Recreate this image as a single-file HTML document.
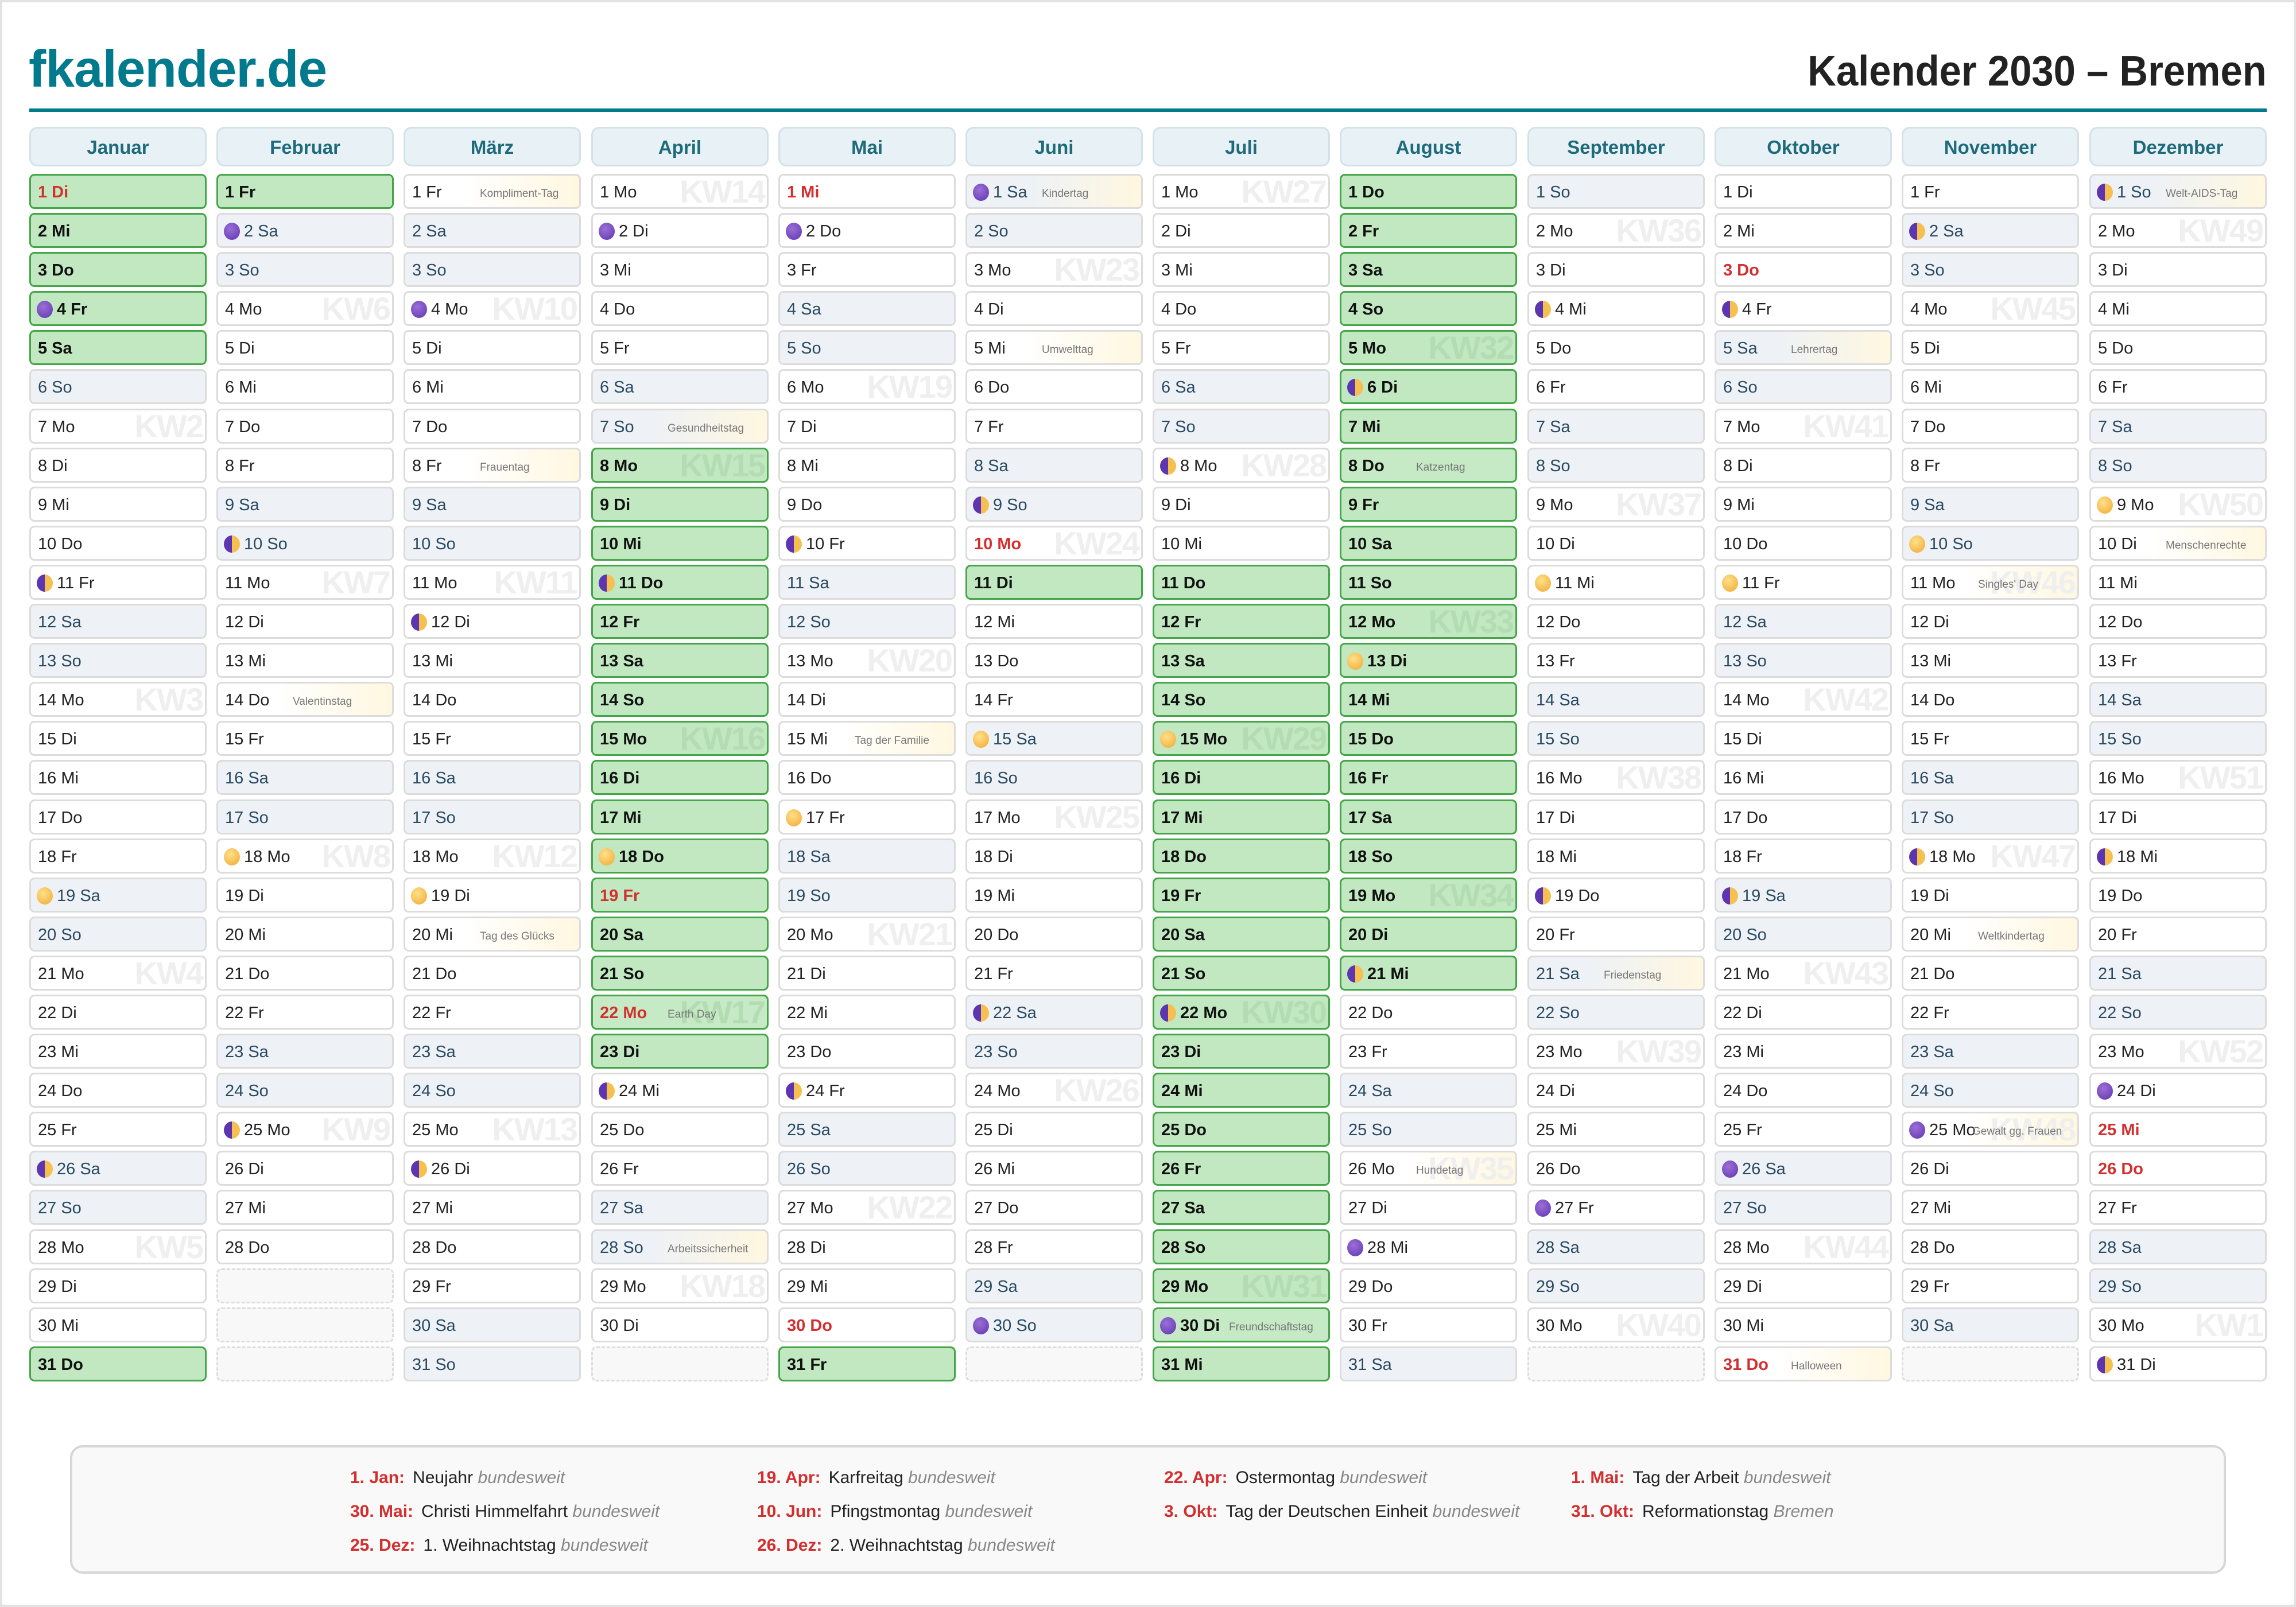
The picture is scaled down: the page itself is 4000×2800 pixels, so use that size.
<!DOCTYPE html>
<html><head><meta charset="utf-8"><style>
*{box-sizing:border-box}
body{margin:0;width:4000px;height:2800px;background:#fff;font-family:"Liberation Sans",sans-serif;position:relative;overflow:hidden}
#frame{position:absolute;left:0;top:0;width:4000px;height:2800px;border:4px solid #E2E2E2}
#logo{position:absolute;left:50px;top:66px;font-size:91px;font-weight:bold;color:#007A8C;letter-spacing:-1px;line-height:110px}
#title{position:absolute;right:51px;top:74px;font-size:74px;font-weight:bold;color:#222;line-height:100px;transform:scaleX(0.93);transform-origin:right center;white-space:nowrap}
#rule{position:absolute;left:51px;top:189px;width:3898px;height:6px;background:#007A8C}
.col{position:absolute;top:221px;width:309px}
.hd{height:69px;margin-bottom:13px;background:#E8F1F5;border:3px solid #D3E2E8;border-radius:14px;text-align:center;font-weight:bold;font-size:33px;line-height:66px;color:#1E6B7B}
p{margin:0 0 7.1px;height:61px;border:3px solid #DCDCDC;border-radius:9px;background:#fff;font-size:29px;line-height:58px;padding-left:12px;position:relative;z-index:0;color:#222;white-space:nowrap;overflow:hidden}
p.w{background:#EEF2F6;color:#2A4A62}
p.f{background:#C1E8C1;border-color:#45A549;font-weight:bold;color:#111}
p.h{color:#D32F2F;font-weight:bold}
p.e{border:3px dashed #DDD;background:#F8F8F8}
p.s{background:linear-gradient(90deg,#fff 35%,#FFF7E0)}
p.w.s{background:linear-gradient(90deg,#EEF2F6 35%,#FFF7E0)}
p.f.s{background:#C6EAC6}
u{position:absolute;right:4px;top:0;text-decoration:none;font-size:56px;font-weight:bold;color:#EFEFEF;line-height:55px;z-index:-1;letter-spacing:-2px}
p.f u{color:#B3DCB3}
em{position:absolute;left:130px;top:3px;font-style:normal;font-size:19px;color:#777;font-weight:normal}
b.m{display:inline-block;width:28px;height:30px;border-radius:50%;vertical-align:-6px;margin-right:7px;margin-left:-2px}
.n{background:radial-gradient(circle at 40% 35%,#9C6FD6,#5E35B1)}
.fu{background:radial-gradient(circle at 40% 35%,#FFE08A,#F0A830)}
.q{background:linear-gradient(90deg,#5E35B1 50%,#F5C050 50%)}
#hol{position:absolute;left:122px;top:2518px;width:3756px;height:224px;background:#F9F9F9;border:4px solid #D6D6D6;border-radius:22px}
.hi{position:absolute;font-size:30px;color:#222;white-space:nowrap;line-height:36px}
.hi b{color:#D32F2F;margin-right:14px}
.hi i{color:#888}
</style></head><body>
<div id="frame"></div>
<div id="logo">fkalender.de</div>
<div id="title">Kalender 2030 – Bremen</div>
<div id="rule"></div>

<div class="col" style="left:51px"><div class="hd">Januar</div>
<p class="f h">1 Di</p><p class="f">2 Mi</p><p class="f">3 Do</p><p class="f"><b class="m n"></b>4 Fr</p><p class="f">5 Sa</p><p class="w">6 So</p><p>7 Mo<u>KW2</u></p><p>8 Di</p><p>9 Mi</p><p>10 Do</p><p><b class="m q"></b>11 Fr</p><p class="w">12 Sa</p><p class="w">13 So</p><p>14 Mo<u>KW3</u></p><p>15 Di</p><p>16 Mi</p><p>17 Do</p><p>18 Fr</p><p class="w"><b class="m fu"></b>19 Sa</p><p class="w">20 So</p><p>21 Mo<u>KW4</u></p><p>22 Di</p><p>23 Mi</p><p>24 Do</p><p>25 Fr</p><p class="w"><b class="m q"></b>26 Sa</p><p class="w">27 So</p><p>28 Mo<u>KW5</u></p><p>29 Di</p><p>30 Mi</p><p class="f">31 Do</p></div>

<div class="col" style="left:377px"><div class="hd">Februar</div>
<p class="f">1 Fr</p><p class="w"><b class="m n"></b>2 Sa</p><p class="w">3 So</p><p>4 Mo<u>KW6</u></p><p>5 Di</p><p>6 Mi</p><p>7 Do</p><p>8 Fr</p><p class="w">9 Sa</p><p class="w"><b class="m q"></b>10 So</p><p>11 Mo<u>KW7</u></p><p>12 Di</p><p>13 Mi</p><p class="s">14 Do<em>Valentinstag</em></p><p>15 Fr</p><p class="w">16 Sa</p><p class="w">17 So</p><p><b class="m fu"></b>18 Mo<u>KW8</u></p><p>19 Di</p><p>20 Mi</p><p>21 Do</p><p>22 Fr</p><p class="w">23 Sa</p><p class="w">24 So</p><p><b class="m q"></b>25 Mo<u>KW9</u></p><p>26 Di</p><p>27 Mi</p><p>28 Do</p><p class="e"></p><p class="e"></p><p class="e"></p></div>

<div class="col" style="left:703px"><div class="hd">März</div>
<p class="s">1 Fr<em>Kompliment-Tag</em></p><p class="w">2 Sa</p><p class="w">3 So</p><p><b class="m n"></b>4 Mo<u>KW10</u></p><p>5 Di</p><p>6 Mi</p><p>7 Do</p><p class="s">8 Fr<em>Frauentag</em></p><p class="w">9 Sa</p><p class="w">10 So</p><p>11 Mo<u>KW11</u></p><p><b class="m q"></b>12 Di</p><p>13 Mi</p><p>14 Do</p><p>15 Fr</p><p class="w">16 Sa</p><p class="w">17 So</p><p>18 Mo<u>KW12</u></p><p><b class="m fu"></b>19 Di</p><p class="s">20 Mi<em>Tag des Glücks</em></p><p>21 Do</p><p>22 Fr</p><p class="w">23 Sa</p><p class="w">24 So</p><p>25 Mo<u>KW13</u></p><p><b class="m q"></b>26 Di</p><p>27 Mi</p><p>28 Do</p><p>29 Fr</p><p class="w">30 Sa</p><p class="w">31 So</p></div>

<div class="col" style="left:1030px"><div class="hd">April</div>
<p>1 Mo<u>KW14</u></p><p><b class="m n"></b>2 Di</p><p>3 Mi</p><p>4 Do</p><p>5 Fr</p><p class="w">6 Sa</p><p class="w s">7 So<em>Gesundheitstag</em></p><p class="f">8 Mo<u>KW15</u></p><p class="f">9 Di</p><p class="f">10 Mi</p><p class="f"><b class="m q"></b>11 Do</p><p class="f">12 Fr</p><p class="f">13 Sa</p><p class="f">14 So</p><p class="f">15 Mo<u>KW16</u></p><p class="f">16 Di</p><p class="f">17 Mi</p><p class="f"><b class="m fu"></b>18 Do</p><p class="f h">19 Fr</p><p class="f">20 Sa</p><p class="f">21 So</p><p class="f h s">22 Mo<em>Earth Day</em><u>KW17</u></p><p class="f">23 Di</p><p><b class="m q"></b>24 Mi</p><p>25 Do</p><p>26 Fr</p><p class="w">27 Sa</p><p class="w s">28 So<em>Arbeitssicherheit</em></p><p>29 Mo<u>KW18</u></p><p>30 Di</p><p class="e"></p></div>

<div class="col" style="left:1356px"><div class="hd">Mai</div>
<p class="h">1 Mi</p><p><b class="m n"></b>2 Do</p><p>3 Fr</p><p class="w">4 Sa</p><p class="w">5 So</p><p>6 Mo<u>KW19</u></p><p>7 Di</p><p>8 Mi</p><p>9 Do</p><p><b class="m q"></b>10 Fr</p><p class="w">11 Sa</p><p class="w">12 So</p><p>13 Mo<u>KW20</u></p><p>14 Di</p><p class="s">15 Mi<em>Tag der Familie</em></p><p>16 Do</p><p><b class="m fu"></b>17 Fr</p><p class="w">18 Sa</p><p class="w">19 So</p><p>20 Mo<u>KW21</u></p><p>21 Di</p><p>22 Mi</p><p>23 Do</p><p><b class="m q"></b>24 Fr</p><p class="w">25 Sa</p><p class="w">26 So</p><p>27 Mo<u>KW22</u></p><p>28 Di</p><p>29 Mi</p><p class="h">30 Do</p><p class="f">31 Fr</p></div>

<div class="col" style="left:1682px"><div class="hd">Juni</div>
<p class="w s"><b class="m n"></b>1 Sa<em>Kindertag</em></p><p class="w">2 So</p><p>3 Mo<u>KW23</u></p><p>4 Di</p><p class="s">5 Mi<em>Umwelttag</em></p><p>6 Do</p><p>7 Fr</p><p class="w">8 Sa</p><p class="w"><b class="m q"></b>9 So</p><p class="h">10 Mo<u>KW24</u></p><p class="f">11 Di</p><p>12 Mi</p><p>13 Do</p><p>14 Fr</p><p class="w"><b class="m fu"></b>15 Sa</p><p class="w">16 So</p><p>17 Mo<u>KW25</u></p><p>18 Di</p><p>19 Mi</p><p>20 Do</p><p>21 Fr</p><p class="w"><b class="m q"></b>22 Sa</p><p class="w">23 So</p><p>24 Mo<u>KW26</u></p><p>25 Di</p><p>26 Mi</p><p>27 Do</p><p>28 Fr</p><p class="w">29 Sa</p><p class="w"><b class="m n"></b>30 So</p><p class="e"></p></div>

<div class="col" style="left:2008px"><div class="hd">Juli</div>
<p>1 Mo<u>KW27</u></p><p>2 Di</p><p>3 Mi</p><p>4 Do</p><p>5 Fr</p><p class="w">6 Sa</p><p class="w">7 So</p><p><b class="m q"></b>8 Mo<u>KW28</u></p><p>9 Di</p><p>10 Mi</p><p class="f">11 Do</p><p class="f">12 Fr</p><p class="f">13 Sa</p><p class="f">14 So</p><p class="f"><b class="m fu"></b>15 Mo<u>KW29</u></p><p class="f">16 Di</p><p class="f">17 Mi</p><p class="f">18 Do</p><p class="f">19 Fr</p><p class="f">20 Sa</p><p class="f">21 So</p><p class="f"><b class="m q"></b>22 Mo<u>KW30</u></p><p class="f">23 Di</p><p class="f">24 Mi</p><p class="f">25 Do</p><p class="f">26 Fr</p><p class="f">27 Sa</p><p class="f">28 So</p><p class="f">29 Mo<u>KW31</u></p><p class="f s"><b class="m n"></b>30 Di<em>Freundschaftstag</em></p><p class="f">31 Mi</p></div>

<div class="col" style="left:2334px"><div class="hd">August</div>
<p class="f">1 Do</p><p class="f">2 Fr</p><p class="f">3 Sa</p><p class="f">4 So</p><p class="f">5 Mo<u>KW32</u></p><p class="f"><b class="m q"></b>6 Di</p><p class="f">7 Mi</p><p class="f s">8 Do<em>Katzentag</em></p><p class="f">9 Fr</p><p class="f">10 Sa</p><p class="f">11 So</p><p class="f">12 Mo<u>KW33</u></p><p class="f"><b class="m fu"></b>13 Di</p><p class="f">14 Mi</p><p class="f">15 Do</p><p class="f">16 Fr</p><p class="f">17 Sa</p><p class="f">18 So</p><p class="f">19 Mo<u>KW34</u></p><p class="f">20 Di</p><p class="f"><b class="m q"></b>21 Mi</p><p>22 Do</p><p>23 Fr</p><p class="w">24 Sa</p><p class="w">25 So</p><p class="s">26 Mo<em>Hundetag</em><u>KW35</u></p><p>27 Di</p><p><b class="m n"></b>28 Mi</p><p>29 Do</p><p>30 Fr</p><p class="w">31 Sa</p></div>

<div class="col" style="left:2661px"><div class="hd">September</div>
<p class="w">1 So</p><p>2 Mo<u>KW36</u></p><p>3 Di</p><p><b class="m q"></b>4 Mi</p><p>5 Do</p><p>6 Fr</p><p class="w">7 Sa</p><p class="w">8 So</p><p>9 Mo<u>KW37</u></p><p>10 Di</p><p><b class="m fu"></b>11 Mi</p><p>12 Do</p><p>13 Fr</p><p class="w">14 Sa</p><p class="w">15 So</p><p>16 Mo<u>KW38</u></p><p>17 Di</p><p>18 Mi</p><p><b class="m q"></b>19 Do</p><p>20 Fr</p><p class="w s">21 Sa<em>Friedenstag</em></p><p class="w">22 So</p><p>23 Mo<u>KW39</u></p><p>24 Di</p><p>25 Mi</p><p>26 Do</p><p><b class="m n"></b>27 Fr</p><p class="w">28 Sa</p><p class="w">29 So</p><p>30 Mo<u>KW40</u></p><p class="e"></p></div>

<div class="col" style="left:2987px"><div class="hd">Oktober</div>
<p>1 Di</p><p>2 Mi</p><p class="h">3 Do</p><p><b class="m q"></b>4 Fr</p><p class="w s">5 Sa<em>Lehrertag</em></p><p class="w">6 So</p><p>7 Mo<u>KW41</u></p><p>8 Di</p><p>9 Mi</p><p>10 Do</p><p><b class="m fu"></b>11 Fr</p><p class="w">12 Sa</p><p class="w">13 So</p><p>14 Mo<u>KW42</u></p><p>15 Di</p><p>16 Mi</p><p>17 Do</p><p>18 Fr</p><p class="w"><b class="m q"></b>19 Sa</p><p class="w">20 So</p><p>21 Mo<u>KW43</u></p><p>22 Di</p><p>23 Mi</p><p>24 Do</p><p>25 Fr</p><p class="w"><b class="m n"></b>26 Sa</p><p class="w">27 So</p><p>28 Mo<u>KW44</u></p><p>29 Di</p><p>30 Mi</p><p class="h s">31 Do<em>Halloween</em></p></div>

<div class="col" style="left:3313px"><div class="hd">November</div>
<p>1 Fr</p><p class="w"><b class="m q"></b>2 Sa</p><p class="w">3 So</p><p>4 Mo<u>KW45</u></p><p>5 Di</p><p>6 Mi</p><p>7 Do</p><p>8 Fr</p><p class="w">9 Sa</p><p class="w"><b class="m fu"></b>10 So</p><p class="s">11 Mo<em>Singles' Day</em><u>KW46</u></p><p>12 Di</p><p>13 Mi</p><p>14 Do</p><p>15 Fr</p><p class="w">16 Sa</p><p class="w">17 So</p><p><b class="m q"></b>18 Mo<u>KW47</u></p><p>19 Di</p><p class="s">20 Mi<em>Weltkindertag</em></p><p>21 Do</p><p>22 Fr</p><p class="w">23 Sa</p><p class="w">24 So</p><p class="s"><b class="m n"></b>25 Mo<em style="left:120px">Gewalt gg. Frauen</em><u>KW48</u></p><p>26 Di</p><p>27 Mi</p><p>28 Do</p><p>29 Fr</p><p class="w">30 Sa</p><p class="e"></p></div>

<div class="col" style="left:3640px"><div class="hd">Dezember</div>
<p class="w s"><b class="m q"></b>1 So<em>Welt-AIDS-Tag</em></p><p>2 Mo<u>KW49</u></p><p>3 Di</p><p>4 Mi</p><p>5 Do</p><p>6 Fr</p><p class="w">7 Sa</p><p class="w">8 So</p><p><b class="m fu"></b>9 Mo<u>KW50</u></p><p class="s">10 Di<em>Menschenrechte</em></p><p>11 Mi</p><p>12 Do</p><p>13 Fr</p><p class="w">14 Sa</p><p class="w">15 So</p><p>16 Mo<u>KW51</u></p><p>17 Di</p><p><b class="m q"></b>18 Mi</p><p>19 Do</p><p>20 Fr</p><p class="w">21 Sa</p><p class="w">22 So</p><p>23 Mo<u>KW52</u></p><p><b class="m n"></b>24 Di</p><p class="h">25 Mi</p><p class="h">26 Do</p><p>27 Fr</p><p class="w">28 Sa</p><p class="w">29 So</p><p>30 Mo<u>KW1</u></p><p><b class="m q"></b>31 Di</p></div>

<div id="hol"></div>
<div class="hi" style="left:610px;top:2557px"><b>1. Jan:</b>Neujahr <i>bundesweit</i></div>
<div class="hi" style="left:1319px;top:2557px"><b>19. Apr:</b>Karfreitag <i>bundesweit</i></div>
<div class="hi" style="left:2028px;top:2557px"><b>22. Apr:</b>Ostermontag <i>bundesweit</i></div>
<div class="hi" style="left:2737px;top:2557px"><b>1. Mai:</b>Tag der Arbeit <i>bundesweit</i></div>
<div class="hi" style="left:610px;top:2616px"><b>30. Mai:</b>Christi Himmelfahrt <i>bundesweit</i></div>
<div class="hi" style="left:1319px;top:2616px"><b>10. Jun:</b>Pfingstmontag <i>bundesweit</i></div>
<div class="hi" style="left:2028px;top:2616px"><b>3. Okt:</b>Tag der Deutschen Einheit <i>bundesweit</i></div>
<div class="hi" style="left:2737px;top:2616px"><b>31. Okt:</b>Reformationstag <i>Bremen</i></div>
<div class="hi" style="left:610px;top:2675px"><b>25. Dez:</b>1. Weihnachtstag <i>bundesweit</i></div>
<div class="hi" style="left:1319px;top:2675px"><b>26. Dez:</b>2. Weihnachtstag <i>bundesweit</i></div>
</body></html>
